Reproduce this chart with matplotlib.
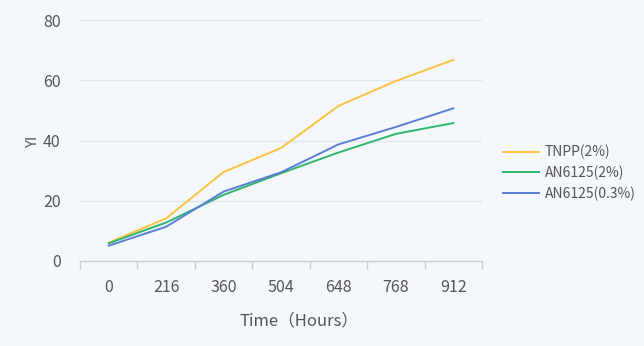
import matplotlib
matplotlib.use("Agg")
import matplotlib.pyplot as plt
import numpy as np

categories = ["0", "216", "360", "504", "648", "768", "912"]
tnpp_2 = [6.0, 14.1, 29.5, 37.5, 51.5, 59.8, 66.8]
an6125_2 = [5.8, 12.7, 21.9, 29.1, 36.0, 42.2, 45.8]
an6125_03 = [5.0, 11.3, 23.0, 29.4, 38.7, 44.5, 50.7]
series_names = ["TNPP(2%)", "AN6125(2%)", "AN6125(0.3%)"]
colors = ["#F9C440", "#2DB76B", "#5B7FD4"]

plt.rcParams['font.family'] = ['Noto Sans CJK SC', 'DejaVu Sans']
bg = "#F4F7FC"
fig = plt.figure(figsize=(6.44, 3.46), dpi=100, facecolor=bg)
ax = fig.add_axes([80/644, 1-260.7/346, (482-80)/644, (260.7-20.3)/346], facecolor=bg)

x = np.arange(len(categories))
for vals, name, c in zip([tnpp_2, an6125_2, an6125_03], series_names, colors):
    ax.plot(x, vals, color=c, lw=1.4, label=name, solid_joinstyle='round')

ax.set_xlim(-0.5, len(categories) - 0.5)
ax.set_ylim(0, 80)
ax.set_yticks([0, 20, 40, 60, 80])
ax.set_xticks(x)
ax.set_xticklabels(categories)
ax.set_xticks(np.arange(-0.5, len(categories)), minor=True)
ax.tick_params(axis='x', which='major', length=0, pad=13, labelsize=11.5, labelcolor="#555555")
ax.tick_params(axis='x', which='minor', length=6, color="#CCCCCC", width=1)
ax.tick_params(axis='y', length=0, pad=14, labelsize=11.5, labelcolor="#555555")
ax.grid(axis='y', color="#E2E6EE", lw=1)
ax.set_axisbelow(True)
for s in ['top', 'right', 'left']:
    ax.spines[s].set_visible(False)
ax.spines['bottom'].set_color("#CCCCCC")
ax.spines['bottom'].set_linewidth(1)

ax.set_xlabel("Time（Hours）", fontsize=12, color="#555555", labelpad=12, x=0.545)
ax.set_ylabel("YI", fontsize=10.5, color="#555555", labelpad=2)

leg = ax.legend(loc='center left', bbox_to_anchor=(503/644, 173/346), bbox_transform=fig.transFigure,
                frameon=False, fontsize=10, handlelength=2.6, handletextpad=0.4,
                labelspacing=0.45, borderaxespad=0, borderpad=0)
for t in leg.get_texts():
    t.set_color("#555555")

fig.savefig("out.png", dpi=100, facecolor=bg)
